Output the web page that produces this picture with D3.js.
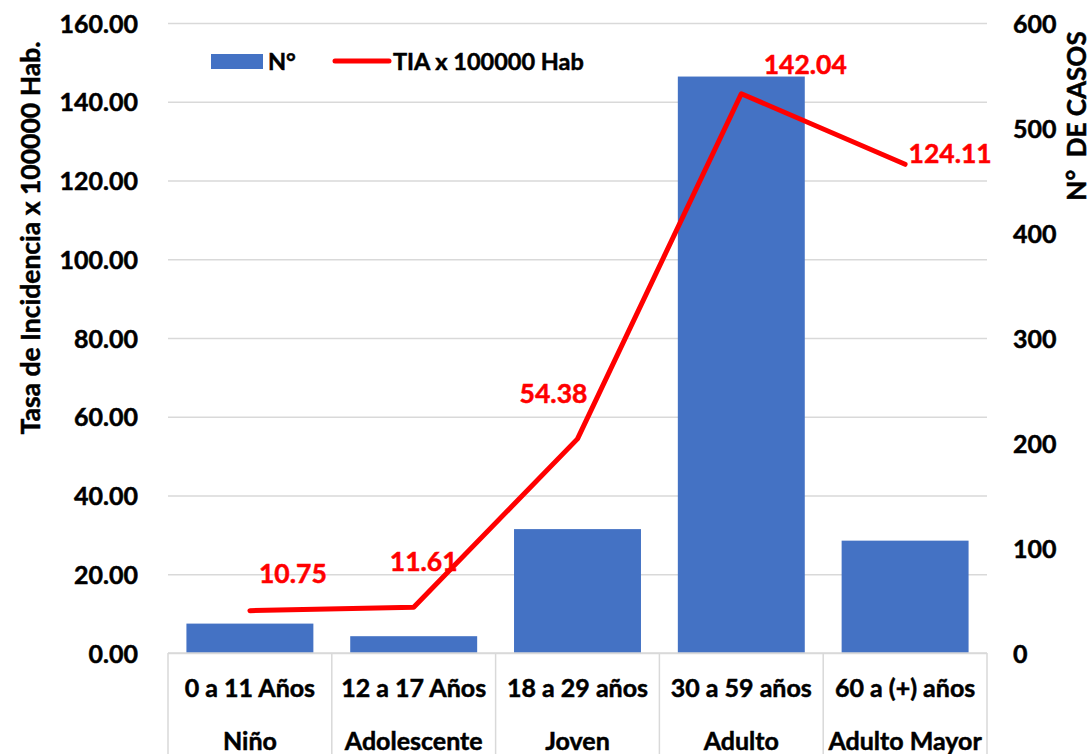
<!DOCTYPE html>
<html>
<head>
<meta charset="utf-8">
<style>
  body { margin: 0; background: #fff; }
  svg text { font-family: Lato, 'Open Sans', sans-serif; font-weight: 700; stroke-width: 0.5px; }
</style>
</head>
<body>
<div id="chart"></div>
<script src="https://d3js.org/d3.v7.min.js"></script>
<script>
  // data
  const ageRanges = ['0 a 11 Años', '12 a 17 Años', '18 a 29 años', '30 a 59 años', '60 a (+) años'];
  const lifeStages = ['Niño', 'Adolescente', 'Joven', 'Adulto', 'Adulto Mayor'];
  const casos = [28, 16, 118, 549, 107];
  const tia = [10.75, 11.61, 54.38, 142.04, 124.11];
  const leftTicks = [0, 20, 40, 60, 80, 100, 120, 140, 160];
  const rightTicks = [0, 100, 200, 300, 400, 500, 600];

  // hand placed label nudges (dx, dy from the point)
  const labelNudge = [[43, -28], [10, -36], [-24, -36], [64, -20], [45, -1]];

  const W = 1091, H = 754;
  const margin = { top: 23, right: 104, bottom: 101, left: 168 };
  const width = W - margin.left - margin.right;
  const height = H - margin.top - margin.bottom;

  const svg = d3.select('#chart').append('svg')
    .attr('width', W)
    .attr('height', H);
  const g = svg.append('g')
    .attr('transform', 'translate(' + margin.left + ',' + margin.top + ')');

  const xScale = d3.scaleBand()
    .domain(ageRanges)
    .range([0, width])
    .paddingInner(0.225)
    .paddingOuter(0.1125);
  const step = xScale.step();

  const yLeft = d3.scaleLinear().domain([0, 160]).range([height, 0]);
  const yRight = d3.scaleLinear().domain([0, 600]).range([height, 0]);

  // gridlines
  g.append('g')
    .call(d3.axisLeft(yLeft).tickValues(leftTicks).tickSize(-width).tickFormat(''))
    .call(s => s.select('.domain').remove())
    .call(s => s.selectAll('.tick line').attr('stroke', '#D9D9D9').attr('stroke-width', 1.5));

  // bars (right axis)
  g.selectAll('.bar')
    .data(casos)
    .enter()
    .append('rect')
    .attr('class', 'bar')
    .attr('x', (d, i) => xScale(ageRanges[i]))
    .attr('y', d => yRight(d))
    .attr('width', xScale.bandwidth())
    .attr('height', d => height - yRight(d))
    .attr('fill', '#4472C4');

  // category axis: baseline + dividers
  g.append('line')
    .attr('x1', 0).attr('x2', width)
    .attr('y1', height).attr('y2', height)
    .attr('stroke', '#D9D9D9').attr('stroke-width', 1.5);
  g.selectAll('.divider')
    .data(d3.range(ageRanges.length + 1))
    .enter()
    .append('line')
    .attr('x1', i => i * step).attr('x2', i => i * step)
    .attr('y1', height).attr('y2', H)
    .attr('stroke', '#D9D9D9').attr('stroke-width', 1.5);

  const catLabels = g.selectAll('.cat')
    .data(ageRanges)
    .enter()
    .append('g')
    .attr('transform', d => 'translate(' + (xScale(d) + xScale.bandwidth() / 2) + ',0)');
  catLabels.append('text')
    .attr('y', height + 44)
    .attr('text-anchor', 'middle')
    .attr('font-size', 25)
    .attr('fill', '#000').attr('stroke', '#000')
    .text(d => d);
  catLabels.append('text')
    .attr('y', height + 97)
    .attr('text-anchor', 'middle')
    .attr('font-size', 25)
    .attr('fill', '#000').attr('stroke', '#000')
    .text((d, i) => lifeStages[i]);

  // line (left axis)
  const cx = i => xScale(ageRanges[i]) + xScale.bandwidth() / 2;
  const line = d3.line()
    .x((d, i) => cx(i))
    .y(d => yLeft(d));
  g.append('path')
    .datum(tia)
    .attr('d', line)
    .attr('fill', 'none')
    .attr('stroke', '#FF0000')
    .attr('stroke-width', 5)
    .attr('stroke-linejoin', 'round')
    .attr('stroke-linecap', 'round');

  g.selectAll('.dlabel')
    .data(tia)
    .enter()
    .append('text')
    .attr('x', (d, i) => cx(i) + labelNudge[i][0])
    .attr('y', (d, i) => yLeft(d) + labelNudge[i][1])
    .attr('text-anchor', 'middle')
    .attr('font-size', 26.5)
    .attr('fill', '#FF0000').attr('stroke', '#FF0000')
    .text(d => d3.format('.2f')(d));

  // axes
  g.append('g')
    .call(d3.axisLeft(yLeft).tickValues(leftTicks).tickSize(0).tickPadding(30).tickFormat(d3.format('.2f')))
    .call(s => s.select('.domain').remove())
    .call(s => s.selectAll('text').attr('font-size', 25).attr('fill', '#000').attr('stroke', '#000').attr('font-family', null).attr('dy', '0.36em'));

  g.append('g')
    .attr('transform', 'translate(' + width + ',0)')
    .call(d3.axisRight(yRight).tickValues(rightTicks).tickSize(0).tickPadding(26).tickFormat(d3.format('d')))
    .call(s => s.select('.domain').remove())
    .call(s => s.selectAll('text').attr('font-size', 25).attr('fill', '#000').attr('stroke', '#000').attr('font-family', null).attr('dy', '0.36em'));

  // axis titles
  svg.append('text')
    .attr('transform', 'translate(40,238) rotate(-90)')
    .attr('text-anchor', 'middle')
    .attr('font-size', 26.5)
    .attr('fill', '#000').attr('stroke', '#000')
    .text('Tasa de Incidencia x 100000 Hab.');
  svg.append('text')
    .attr('transform', 'translate(1086,116) rotate(-90)')
    .attr('text-anchor', 'middle')
    .attr('font-size', 26)
    .attr('fill', '#000').attr('stroke', '#000')
    .attr('xml:space', 'preserve')
    .text('N°  DE CASOS');

  // legend
  const legend = svg.append('g');
  legend.append('rect')
    .attr('x', 211).attr('y', 54).attr('width', 52).attr('height', 15)
    .attr('fill', '#4472C4');
  legend.append('text')
    .attr('x', 268).attr('y', 70)
    .attr('font-size', 23.5).attr('fill', '#000').attr('stroke', '#000')
    .text('N°');
  legend.append('line')
    .attr('x1', 335).attr('x2', 389).attr('y1', 61).attr('y2', 61)
    .attr('stroke', '#FF0000').attr('stroke-width', 5).attr('stroke-linecap', 'round');
  legend.append('text')
    .attr('x', 393).attr('y', 70)
    .attr('font-size', 23.5).attr('fill', '#000').attr('stroke', '#000')
    .text('TIA x 100000 Hab');
</script>
</body>
</html>
